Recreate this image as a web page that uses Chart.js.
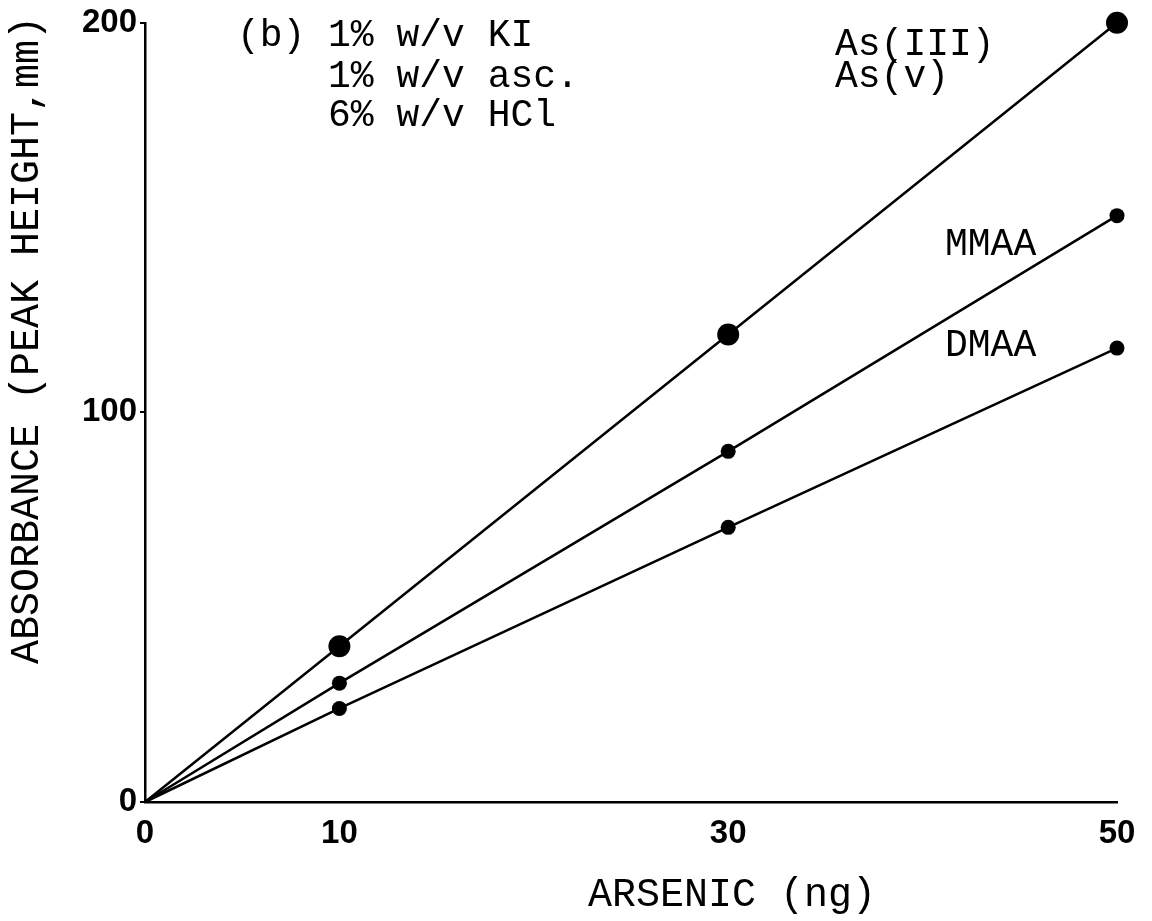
<!DOCTYPE html>
<html>
<head>
  <title>Arsenic calibration (b)</title>
  <script src="https://cdn.jsdelivr.net/npm/chart.js@4.4.1/dist/chart.umd.min.js"></script>
  <style>
    html, body { margin: 0; padding: 0; background: #fff; }
    #chartCanvas { display: block; }
  </style>
</head>
<body>
  <canvas id="chartCanvas" width="1152" height="921"></canvas>

  <script>
    // values
    const arsenicNg = [0, 10, 30, 50];
    const asValues = [0, 40, 120, 200];
    const mmaaValues = [0, 30.5, 90, 150.5];
    const dmaaValues = [0, 24, 70.5, 116.5];
    const xTickValues = [0, 10, 30, 50];
    const yTickValues = [0, 100, 200];

    const monoFont = "'Liberation Mono', 'DejaVu Sans Mono', monospace";
    const tickFont = { family: "'Liberation Sans Narrow', 'Liberation Sans', sans-serif", size: 33, weight: 'bold' };

    function toPoints(values) {
      return values.map((v, i) => ({ x: arsenicNg[i], y: v }));
    }

    // text written on the figure (drawn on canvas)
    const annotationPlugin = {
      id: 'annotations',
      afterDraw(chart) {
        const ctx = chart.ctx;
        ctx.save();
        ctx.fillStyle = '#000';
        ctx.textBaseline = 'alphabetic';
        ctx.textAlign = 'left';
        ctx.font = '38px ' + monoFont;
        ctx.fillText('(b)', 237, 46);
        ctx.fillText('1% w/v KI', 328, 46);
        ctx.fillText('1% w/v asc.', 328, 87);
        ctx.fillText('6% w/v HCl', 328, 126);
        ctx.fillText('As(III)', 835, 55);
        ctx.fillText('As(v)', 835, 87);
        ctx.fillText('MMAA', 945, 255);
        ctx.fillText('DMAA', 945, 356);

        // axis titles
        ctx.font = '40px ' + monoFont;
        ctx.textAlign = 'center';
        ctx.fillText('ARSENIC (ng)', 732, 906);
        ctx.translate(38, 340);
        ctx.rotate(-Math.PI / 2);
        ctx.fillText('ABSORBANCE (PEAK HEIGHT,mm)', 0, 0);
        ctx.restore();
      }
    };

    function series(label, values, radius) {
      return {
        label: label,
        data: toPoints(values),
        borderColor: '#000',
        backgroundColor: '#000',
        borderWidth: 2.5,
        pointRadius: values.map((v, i) => (i === 0 ? 0 : radius)),
        pointBackgroundColor: '#000',
        pointBorderWidth: 0,
        clip: false
      };
    }

    const ctx = document.getElementById('chartCanvas').getContext('2d');

    new Chart(ctx, {
      type: 'line',
      data: {
        datasets: [
          series('As(III) / As(v)', asValues, 11),
          series('MMAA', mmaaValues, 7.5),
          series('DMAA', dmaaValues, 7.5)
        ]
      },
      options: {
        responsive: false,
        animation: false,
        layout: {
          padding: { top: 21, right: 35, bottom: 0, left: 0 }
        },
        plugins: {
          legend: { display: false },
          tooltip: { enabled: false }
        },
        scales: {
          x: {
            type: 'linear',
            min: 0,
            max: 50,
            afterBuildTicks: (axis) => {
              axis.ticks = xTickValues.map(v => ({ value: v }));
            },
            afterFit: (axis) => { axis.height = 921 - 802; },
            grid: { display: false },
            border: { display: true, color: '#000', width: 2.5 },
            ticks: {
              color: '#000',
              font: tickFont,
              padding: 4,
              maxRotation: 0,
              autoSkip: false
            }
          },
          y: {
            type: 'linear',
            min: 0,
            max: 200,
            afterBuildTicks: (axis) => {
              axis.ticks = yTickValues.map(v => ({ value: v }));
            },
            afterFit: (axis) => { axis.width = 145; },
            grid: {
              display: true,
              drawOnChartArea: false,
              drawTicks: true,
              tickLength: 5,
              color: '#000',
              lineWidth: 2
            },
            border: { display: true, color: '#000', width: 2.5 },
            ticks: {
              color: '#000',
              font: tickFont,
              padding: 3
            }
          }
        }
      },
      plugins: [annotationPlugin]
    });
  </script>
</body>
</html>
